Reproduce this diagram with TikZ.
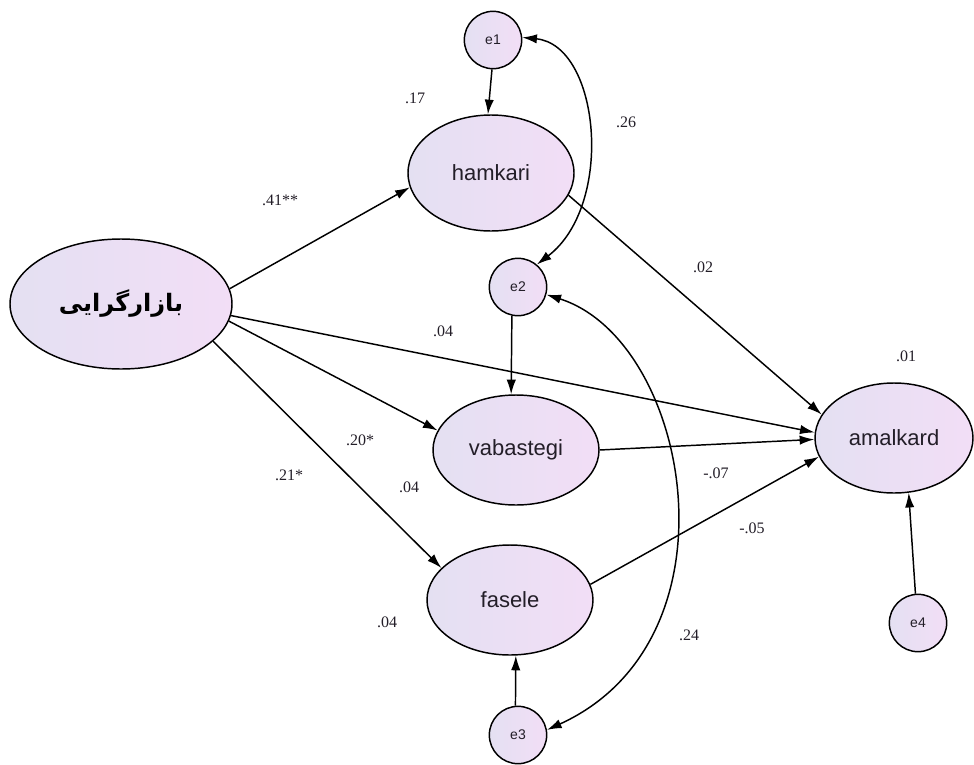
\documentclass[tikz,border=0pt]{standalone}
\usepackage{fontspec}
\setmainfont{Liberation Sans}
\newfontfamily\numfont{Liberation Serif}
\newfontfamily\arabicfont[Script=Arabic]{DejaVu Sans}
\TeXXeTstate=1
\usetikzlibrary{arrows.meta,shapes.geometric}
\definecolor{lavL}{RGB}{228,224,242}
\definecolor{lavR}{RGB}{242,222,246}
\definecolor{txt}{RGB}{35,30,40}
\tikzset{
  latent/.style 2 args={ellipse, draw=black, line width=1.1pt, left color=lavL, right color=lavR,
     minimum width=#1*0.75pt, minimum height=#2*0.75pt, inner sep=0pt, text=txt,
     font=\fontsize{16.5}{18}\selectfont},
  errv/.style={circle, draw=black, line width=1.1pt, left color=lavL, right color=lavR,
     minimum size=43pt, inner sep=0pt, text=txt, font=\fontsize{10.5}{12}\selectfont},
  path/.style={line width=1.1pt, -{Latex[length=11pt,width=7pt]}},
  cov/.style={line width=1.1pt, {Latex[length=11pt,width=7pt]}-{Latex[length=11pt,width=7pt]}},
  coef/.style={text=txt, font=\numfont\fontsize{12}{13}\selectfont, inner sep=0pt}
}
\begin{document}
\begin{tikzpicture}[x=0.75pt,y=-0.75pt]
\useasboundingbox (0,0) rectangle (974,764);
\fill[white] (0,0) rectangle (974,764);
% nodes
\node[latent={222}{130}, text=black, font=\arabicfont\bfseries\fontsize{18}{20}\selectfont] (bz) at (121,304) {\beginR بازارگرایی\endR};
\node[latent={166}{116}] (hk) at (491,173) {hamkari};
\node[latent={166}{110}] (vb) at (516,450) {vabastegi};
\node[latent={166}{110}] (fs) at (510,600) {fasele};
\node[latent={158}{110}] (am) at (894,438) {amalkard};
\node[errv] (e1) at (493,40) {e1};
\node[errv] (e2) at (518,287) {e2};
\node[errv] (e3) at (518,735) {e3};
\node[errv] (e4) at (918,623) {e4};
% paths
\draw[path] (bz.8) -- (hk.190);
\draw[path] (bz.-6) -- (am.176);
\draw[path] (bz.-9) -- (vb.166);
\draw[path] (bz.-22) -- (fs.155);
\draw[path] (hk.-16) -- (am.162);
\draw[path] (vb.0) -- (am.181);
\draw[path] (fs.11) -- (am.194);
\draw[path] (e1.268) -- (hk.93);
\draw[path] (e2.258) -- (vb.95);
\draw[path] (e3.95) -- (fs.-84);
\draw[path] (e4.95) -- (am.-75);
% covariances
\draw[cov] (e1.5) .. controls (600,45) and (615,205) .. (e2.50);
\draw[cov] (e2.-15) .. controls (690,340) and (745,640) .. (e3.10);
% coefficients
\node[coef] at (415,98) {.17};
\node[coef] at (626,122) {.26};
\node[coef] at (280,200) {.41**};
\node[coef] at (703,267) {.02};
\node[coef] at (443,331) {.04};
\node[coef] at (906,356) {.01};
\node[coef] at (360,440) {.20*};
\node[coef] at (289,475) {.21*};
\node[coef] at (409,487) {.04};
\node[coef] at (716,473) {-.07};
\node[coef] at (752,528) {-.05};
\node[coef] at (387,622) {.04};
\node[coef] at (689,635) {.24};
\end{tikzpicture}
\end{document}
